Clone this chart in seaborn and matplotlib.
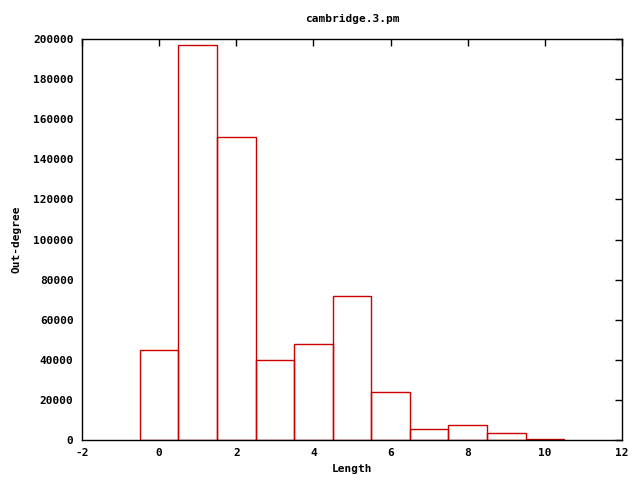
import matplotlib
matplotlib.use("Agg")
import matplotlib.pyplot as plt
import seaborn as sns
import pandas as pd

lengths = [0, 1, 2, 3, 4, 5, 6, 7, 8, 9, 10]
out_degree = [45000, 197000, 151000, 40000, 48000, 72000, 24000, 5500, 7500, 3500, 600]
x_ticks = [-2, 0, 2, 4, 6, 8, 10, 12]
y_ticks = [0, 20000, 40000, 60000, 80000, 100000, 120000, 140000, 160000, 180000, 200000]

sns.set_style("white")
plt.rcParams['font.family'] = ['DejaVu Sans Mono', 'DejaVu Sans']
plt.rcParams['font.weight'] = 'bold'
plt.rcParams['font.size'] = 8
plt.rcParams['text.color'] = 'black'
plt.rcParams['axes.labelcolor'] = 'black'
plt.rcParams['xtick.color'] = 'black'
plt.rcParams['ytick.color'] = 'black'

df = pd.DataFrame({"Length": lengths, "Out-degree": out_degree})

fig = plt.figure(figsize=(6.4, 4.8), dpi=100)
ax = fig.add_axes([0.128, 0.083, 0.844, 0.836])
sns.histplot(data=df, x="Length", weights="Out-degree", discrete=True,
             fill=False, element="bars", color="#cc0000", linewidth=1.0, ax=ax)

ax.set_xlim(-2, 12)
ax.set_ylim(0, 200000)
ax.set_xticks(x_ticks)
ax.set_yticks(y_ticks)
ax.set_xticklabels([str(t) for t in x_ticks], fontweight='bold', color='black')
ax.set_yticklabels([str(t) for t in y_ticks], fontweight='bold', color='black')
ax.tick_params(direction='in', length=5, width=1, top=True, right=True, labelsize=8, pad=6,
               colors='black')
for s in ax.spines.values():
    s.set_visible(True)
    s.set_color('black')
    s.set_linewidth(1)
ax.set_xlabel("Length", fontweight='bold', fontsize=8, color='black')
ax.set_ylabel("Out-degree", fontweight='bold', fontsize=8, labelpad=8, color='black')
ax.set_title("cambridge.3.pm", fontweight='bold', fontsize=8, pad=12, color='black')

fig.savefig("out.png", dpi=100)
